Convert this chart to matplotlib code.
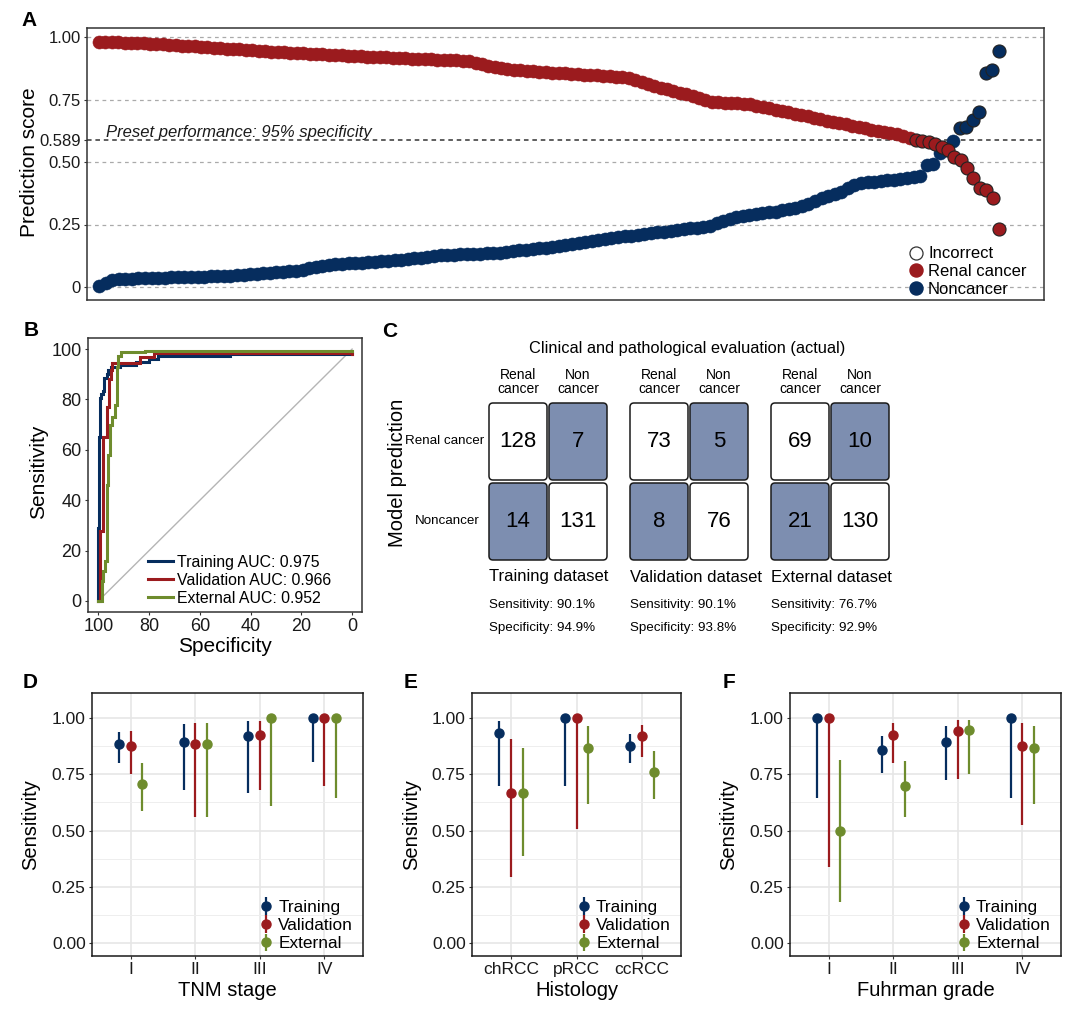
import numpy as np
import matplotlib
matplotlib.use('Agg')
import matplotlib.pyplot as plt
from matplotlib.patches import FancyBboxPatch
from matplotlib.lines import Line2D

plt.rcParams['font.family'] = ['Liberation Sans', 'DejaVu Sans']
plt.rcParams['axes.linewidth'] = 1.1
plt.rcParams['xtick.major.size'] = 2.5
plt.rcParams['ytick.major.size'] = 2.5
plt.rcParams['xtick.major.pad'] = 2
plt.rcParams['ytick.major.pad'] = 2
plt.rcParams['xtick.color'] = '#333333'
plt.rcParams['ytick.color'] = '#333333'
plt.rcParams['xtick.labelcolor'] = '#1a1a1a'
plt.rcParams['ytick.labelcolor'] = '#1a1a1a'

RED = '#9B1B1E'
BLUE = '#062D5E'
GREEN = '#6E8C2D'
MATFILL = '#7D8EB0'

# ---------------- data ----------------
cutoff = 0.589
# panel A, training set prediction scores (sorted)
renal_scores = [
    0.982, 0.981, 0.980, 0.979, 0.978, 0.977, 0.976, 0.975, 0.974, 0.973,
    0.972, 0.970, 0.968, 0.966, 0.964, 0.963, 0.961, 0.959, 0.958, 0.956,
    0.954, 0.953, 0.951, 0.949, 0.947, 0.946, 0.944, 0.942, 0.941, 0.939,
    0.938, 0.937, 0.935, 0.934, 0.932, 0.931, 0.930, 0.928, 0.927, 0.925,
    0.924, 0.923, 0.922, 0.921, 0.920, 0.919, 0.917, 0.916, 0.915, 0.914,
    0.913, 0.912, 0.911, 0.910, 0.909, 0.908, 0.907, 0.906, 0.904, 0.898,
    0.892, 0.886, 0.880, 0.876, 0.873, 0.870, 0.868, 0.866, 0.864, 0.861,
    0.860, 0.858, 0.856, 0.855, 0.853, 0.851, 0.850, 0.848, 0.847, 0.845,
    0.843, 0.842, 0.840, 0.838, 0.830, 0.820, 0.812, 0.805, 0.798, 0.792,
    0.785, 0.778, 0.772, 0.765, 0.758, 0.750, 0.742, 0.740, 0.738, 0.736,
    0.735, 0.733, 0.731, 0.726, 0.721, 0.716, 0.710, 0.705, 0.700, 0.694,
    0.688, 0.683, 0.677, 0.671, 0.666, 0.661, 0.656, 0.651, 0.646, 0.640,
    0.635, 0.629, 0.625, 0.620, 0.615, 0.611, 0.604, 0.597,
    0.588, 0.585, 0.581, 0.572, 0.561, 0.548, 0.521, 0.508, 0.475, 0.435,
    0.395, 0.388, 0.355, 0.231,
]
noncancer_scores = [
    0.005, 0.018, 0.028, 0.031, 0.033, 0.034, 0.035, 0.036, 0.037, 0.037,
    0.038, 0.039, 0.040, 0.040, 0.041, 0.041, 0.042, 0.043, 0.044, 0.045,
    0.046, 0.048, 0.050, 0.052, 0.054, 0.056, 0.058, 0.060, 0.062, 0.064,
    0.066, 0.068, 0.075, 0.082, 0.086, 0.089, 0.091, 0.093, 0.095, 0.097,
    0.098, 0.100, 0.102, 0.104, 0.106, 0.108, 0.110, 0.112, 0.115, 0.118,
    0.122, 0.126, 0.128, 0.129, 0.130, 0.131, 0.132, 0.133, 0.134, 0.135,
    0.136, 0.138, 0.141, 0.144, 0.147, 0.150, 0.152, 0.155, 0.158, 0.162,
    0.166, 0.170, 0.174, 0.178, 0.182, 0.186, 0.190, 0.194, 0.197, 0.200,
    0.203, 0.206, 0.209, 0.212, 0.215, 0.219, 0.222, 0.226, 0.229, 0.232,
    0.235, 0.238, 0.240, 0.243, 0.255, 0.265, 0.273, 0.279, 0.283, 0.287,
    0.291, 0.295, 0.299, 0.302, 0.307, 0.312, 0.317, 0.323, 0.333, 0.345,
    0.358, 0.365, 0.372, 0.381, 0.395, 0.410, 0.416, 0.419, 0.422, 0.425,
    0.428, 0.430, 0.433, 0.436, 0.440, 0.443, 0.488, 0.492, 0.536, 0.548,
    0.585,
    0.636, 0.640, 0.668, 0.700, 0.856, 0.868, 0.945,
]

# panel B, ROC step curves (specificity, sensitivity)
roc_names = ['Training AUC: 0.975', 'Validation AUC: 0.966', 'External AUC: 0.952']
roc_train_spec = [100, 100, 99.7, 99.7, 99.4, 99.4, 98.8, 98.8, 98.2, 98.2, 97.6, 97.6, 96.7, 96.7,
                  96.1, 96.1, 95.0, 95.0, 91.5, 91.5, 85.0, 85.0, 80.0, 80.0, 76.5, 76.5, 48.0, 48.0, 0]
roc_train_sens = [0, 29, 29, 65, 65, 80.5, 80.5, 82, 82, 83.5, 83.5, 88.5, 88.5, 90,
                  90, 91.5, 91.5, 93, 93, 93.7, 93.7, 95, 95, 96, 96, 97.1, 97.1, 98.2, 98.2]
roc_val_spec = [100, 99.3, 99.3, 98.0, 98.0, 96.8, 96.8, 96.0, 96.0, 95.2, 95.2, 94.6, 94.6,
                83.5, 83.5, 78.0, 78.0, 0, 0]
roc_val_sens = [0, 0, 27.6, 27.6, 65, 65, 77, 77, 88, 88, 91.5, 91.5, 94.6,
                94.6, 96.8, 96.8, 98.6, 98.6, 98.0]
roc_ext_spec = [100, 98.7, 98.7, 98.0, 98.0, 97.4, 97.4, 96.7, 96.7, 96.1, 96.1, 95.4, 95.4,
                94.8, 94.8, 93.5, 93.5, 92.8, 92.8, 92.2, 92.2, 90.9, 90.9, 81.8, 81.8, 0]
roc_ext_sens = [0, 0, 8, 8, 12, 12, 16, 16, 46, 46, 58, 58, 70,
                70, 73, 73, 77.6, 77.6, 92.8, 92.8, 97.4, 97.4, 98.7, 98.7, 99.3, 99.3]

# panel C, confusion matrices
datasets = ['Training dataset', 'Validation dataset', 'External dataset']
tp = [128, 73, 69]
fp = [7, 5, 10]
fn = [14, 8, 21]
tn = [131, 76, 130]

# panels D-F, sensitivity with 95% CI (estimate, low, high) per cohort
cohorts = ['Training', 'Validation', 'External']
tnm_cats = ['I', 'II', 'III', 'IV']
tnm = {
    'Training':   ([0.882, 0.894, 0.920, 1.000], [0.798, 0.682, 0.665, 0.802], [0.935, 0.972, 0.985, 1.000]),
    'Validation': ([0.876, 0.886, 0.926, 1.000], [0.753, 0.561, 0.682, 0.697], [0.942, 0.979, 0.987, 1.000]),
    'External':   ([0.705, 0.886, 1.000, 1.000], [0.586, 0.561, 0.609, 0.643], [0.800, 0.979, 1.000, 1.000]),
}
hist_cats = ['chRCC', 'pRCC', 'ccRCC']
hist = {
    'Training':   ([0.931, 1.000, 0.876], [0.697, 0.697, 0.800], [0.987, 1.000, 0.928]),
    'Validation': ([0.665, 1.000, 0.920], [0.295, 0.507, 0.827], [0.904, 1.000, 0.967]),
    'External':   ([0.665, 0.864, 0.761], [0.387, 0.617, 0.640], [0.864, 0.963, 0.852]),
}
grade_cats = ['I', 'II', 'III', 'IV']
grade = {
    'Training':   ([1.000, 0.857, 0.891, 1.000], [0.643, 0.756, 0.724, 0.643], [1.000, 0.920, 0.963, 1.000]),
    'Validation': ([1.000, 0.923, 0.941, 0.874], [0.340, 0.800, 0.727, 0.527], [1.000, 0.975, 0.990, 0.979]),
    'External':   ([0.499, 0.699, 0.945, 0.864], [0.185, 0.561, 0.750, 0.617], [0.815, 0.809, 0.990, 0.963]),
}
cohort_colors = {'Training': BLUE, 'Validation': RED, 'External': GREEN}

# ---------------- figure ----------------
W, H = 1080, 1010
fig = plt.figure(figsize=(W / 100, H / 100), dpi=100)


def px_axes(x0, y0, x1, y1):
    return fig.add_axes([x0 / W, 1 - y1 / H, (x1 - x0) / W, (y1 - y0) / H])


def panel_letter(x, y, s):
    fig.text(x / W, 1 - y / H, s, fontsize=15, fontweight='bold', ha='center', va='center')


# ---- A ----
axA = px_axes(87, 28, 1044, 300)
for yv in [0, 0.25, 0.5, 0.75, 1.0]:
    axA.axhline(yv, color='#aaaaaa', lw=0.9, ls=(0, (3, 3)), zorder=0)
axA.axhline(cutoff, color='#333333', lw=1.1, ls=(0, (3, 2.5)), zorder=0)

r = np.array(renal_scores)
b = np.array(noncancer_scores)
xr = np.linspace(0, 1, len(r))
xb = np.linspace(0, 1, len(b))
r_ok = r >= cutoff
b_ok = b < cutoff
ms = 9.4
axA.plot(xr[r_ok], r[r_ok], 'o', ms=ms, mfc=RED, mec=RED, mew=0.4, zorder=2)
axA.plot(xr[~r_ok], r[~r_ok], 'o', ms=ms, mfc=RED, mec='#222222', mew=0.8, zorder=3)
axA.plot(xb[b_ok], b[b_ok], 'o', ms=ms, mfc=BLUE, mec=BLUE, mew=0.4, zorder=2)
axA.plot(xb[~b_ok], b[~b_ok], 'o', ms=ms, mfc=BLUE, mec='#222222', mew=0.8, zorder=3)

axA.set_xlim(-0.0133, 1.05)
axA.set_ylim(-0.052, 1.036)
axA.set_xticks([])
axA.set_yticks([0, 0.25, 0.5, cutoff, 0.75, 1.0])
axA.set_yticklabels(['0', '0.25', '0.50', '0.589', '0.75', '1.00'], fontsize=12)
axA.set_ylabel('Prediction score', fontsize=15, va='center')
axA.yaxis.set_label_coords(-0.0596, 0.507)
for s in axA.spines.values():
    s.set_color('#333333')
axA.text((106 - 99) / 900, 0.616, 'Preset performance: 95% specificity', style='italic',
         fontsize=12, color='#1a1a1a', ha='left', va='center')
legA = [Line2D([], [], ls='', marker='o', ms=ms, mfc='white', mec='#333333', mew=0.9),
        Line2D([], [], ls='', marker='o', ms=ms, mfc=RED, mec=RED),
        Line2D([], [], ls='', marker='o', ms=ms, mfc=BLUE, mec=BLUE)]
axA.legend(legA, ['Incorrect', 'Renal cancer', 'Noncancer'], loc='lower left',
           bbox_to_anchor=((908 - 87) / 957, 0.012), frameon=False, fontsize=12,
           handlelength=1.0, handletextpad=0.2, labelspacing=0.16, borderpad=0, borderaxespad=0)
panel_letter(29, 21, 'A')

# ---- B ----
axB = px_axes(88, 338, 362, 612)
axB.plot([100, 0], [0, 100], color='#b5b5b5', lw=1.0, zorder=1)
roc_curves = [(roc_train_spec, roc_train_sens, BLUE),
              (roc_val_spec, roc_val_sens, RED),
              (roc_ext_spec, roc_ext_sens, GREEN)]
for (sp, se, c), name in zip(roc_curves, roc_names):
    axB.plot(sp, se, color=c, lw=2.2, label=name, solid_joinstyle='miter', zorder=2)
axB.set_xlim(104.1, -3.9)
axB.set_ylim(-4.4, 104.4)
axB.set_xticks([100, 80, 60, 40, 20, 0])
axB.set_yticks([0, 20, 40, 60, 80, 100])
axB.tick_params(labelsize=13)
axB.set_xlabel('Specificity', fontsize=15, va='center')
axB.xaxis.set_label_coords(0.5, -0.125)
axB.set_ylabel('Sensitivity', fontsize=15, va='center')
axB.yaxis.set_label_coords(-0.182, 0.51)
for s in axB.spines.values():
    s.set_color('#333333')
axB.legend(loc='lower left', bbox_to_anchor=((148 - 88) / 274, 0.022), frameon=False,
           fontsize=11.4, handlelength=1.55, handletextpad=0.3, labelspacing=0.2,
           borderpad=0, borderaxespad=0)
panel_letter(31, 330, 'B')

# ---- C ----
axC = px_axes(380, 310, 1080, 660)
axC.set_xlim(380, 1080)
axC.set_ylim(660, 310)
axC.axis('off')

group_x = [489, 630, 771]
col_w, gap = 58, 2
row_y = [403, 483]
row_h = 77
axC.text(687, 349, 'Clinical and pathological evaluation (actual)', fontsize=11.8,
         ha='center', va='center')
axC.text(397, 473, 'Model prediction', fontsize=14.5, rotation=90, ha='center', va='center')
axC.text(484, 441, 'Renal cancer', fontsize=9.6, ha='right', va='center')
axC.text(447, 521, 'Noncancer', fontsize=9.6, ha='center', va='center')

for g, gx in enumerate(group_x):
    cells = [[tp[g], fp[g]], [fn[g], tn[g]]]
    for ci, head in enumerate(['Renal\ncancer', 'Non\ncancer']):
        cx = gx + ci * (col_w + gap) + col_w / 2
        axC.text(cx, 382, head, fontsize=10, ha='center', va='center', linespacing=0.95)
    for ri in range(2):
        for ci in range(2):
            x0 = gx + ci * (col_w + gap)
            y0 = row_y[ri]
            fc = 'white' if ri == ci else MATFILL
            box = FancyBboxPatch((x0 + 4, y0 + 4), col_w - 8, row_h - 8,
                                 boxstyle='round,pad=4', fc=fc, ec='#1a1a1a', lw=1.1)
            axC.add_patch(box)
            axC.text(x0 + col_w / 2, y0 + row_h / 2, str(cells[ri][ci]),
                     fontsize=16, ha='center', va='center')
    sens = 100 * tp[g] / (tp[g] + fn[g])
    spec = 100 * tn[g] / (tn[g] + fp[g])
    axC.text(gx, 577, datasets[g], fontsize=12, ha='left', va='center')
    axC.text(gx, 605, 'Sensitivity: %.1f%%' % sens, fontsize=9.6, ha='left', va='center')
    axC.text(gx, 628, 'Specificity: %.1f%%' % spec, fontsize=9.6, ha='left', va='center')
panel_letter(390, 331, 'C')


# ---- D, E, F ----
def sens_panel(x0, x1, cats, data, xlabel, ylab_x):
    ax = px_axes(x0, 693, x1, 956)
    pos = np.arange(1, len(cats) + 1)
    offsets = [-0.18, 0.0, 0.18]
    for off, name in zip(offsets, cohorts):
        est, lo, hi = [np.array(v) for v in data[name]]
        ax.errorbar(pos + off, est, yerr=[est - lo, hi - est], fmt='o', color=cohort_colors[name],
                    ms=6.5, elinewidth=1.6, capsize=0, label=name, zorder=3)
    ax.set_xlim(0.4, len(cats) + 0.6)
    ax.set_ylim(-0.056, 1.11)
    ax.set_xticks(pos)
    ax.set_xticklabels(cats)
    ax.set_yticks([0, 0.25, 0.5, 0.75, 1.0])
    ax.set_yticklabels(['0.00', '0.25', '0.50', '0.75', '1.00'])
    ax.set_yticks([0.125, 0.375, 0.625, 0.875], minor=True)
    ax.tick_params(which='minor', length=0)
    ax.tick_params(labelsize=12.5)
    ax.grid(which='major', color='#e6e6e6', lw=1.2)
    ax.grid(which='minor', axis='y', color='#eeeeee', lw=0.7)
    ax.set_axisbelow(True)
    for s in ax.spines.values():
        s.set_color('#1a1a1a')
    ax.set_xlabel(xlabel, fontsize=14.5, va='center')
    ax.xaxis.set_label_coords(0.5, -0.13)
    ax.set_ylabel('Sensitivity', fontsize=14.5, va='center')
    ax.yaxis.set_label_coords(ylab_x, 0.5)
    ax.legend(loc='lower right', bbox_to_anchor=(1 - 10 / (x1 - x0), 0.018), frameon=False,
              fontsize=12.4, handlelength=0.8, handletextpad=0.3, labelspacing=0.18,
              borderpad=0, borderaxespad=0)
    return ax


sens_panel(92, 363, tnm_cats, tnm, 'TNM stage', -0.225)
sens_panel(472, 681, hist_cats, hist, 'Histology', -0.287)
sens_panel(790, 1061, grade_cats, grade, 'Fuhrman grade', -0.225)
panel_letter(30, 682, 'D')
panel_letter(411, 682, 'E')
panel_letter(729, 682, 'F')

fig.savefig('out.png', dpi=100)
